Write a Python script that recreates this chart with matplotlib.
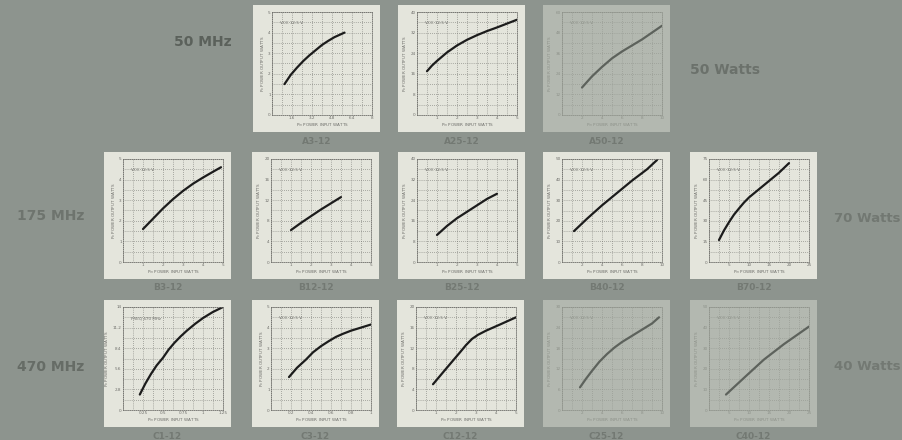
#!/usr/bin/env python3
"""
Power output vs power input curves, 12 V RF transistor line (scanned catalogue page).
"""

import matplotlib
matplotlib.use("Agg")
import matplotlib.pyplot as plt
from matplotlib.patches import Rectangle

# Panel data: Pin (watts) vs Po (watts)
a3_pin = [1.0, 1.5, 2.0, 2.5, 3.0, 3.5, 4.0, 4.5, 5.0, 5.8]
a3_pout = [1.5, 1.95, 2.3, 2.62, 2.9, 3.15, 3.4, 3.6, 3.78, 4.0]
a25_pin = [0.5, 0.75, 1.0, 1.5, 2.0, 2.5, 3.0, 3.5, 4.0, 4.5, 5.0]
a25_pout = [17, 19.2, 21, 24.3, 27, 29.2, 31, 32.6, 34, 35.5, 37]
a50_pin = [2, 3, 4, 5, 6, 7, 8, 9, 10]
a50_pout = [16, 22.5, 28, 33, 37, 40.5, 44, 48, 52]

b3_pin = [1.0, 1.5, 2.0, 2.5, 3.0, 3.5, 4.0, 4.5, 4.9]
b3_pout = [1.6, 2.1, 2.6, 3.05, 3.45, 3.8, 4.1, 4.38, 4.6]
b12_pin = [1.0, 1.5, 2.0, 2.5, 3.0, 3.5]
b12_pout = [6.2, 7.6, 8.9, 10.2, 11.4, 12.6]
b25_pin = [1.0, 1.5, 2.0, 2.5, 3.0, 3.5, 4.0]
b25_pout = [10.5, 14, 17, 19.5, 22, 24.5, 26.5]
b40_pin = [1.2, 2.5, 4.0, 5.5, 7.0, 8.5, 9.5]
b40_pout = [15, 21, 27.5, 33.5, 39.5, 45, 49.5]
b70_pin = [2.5, 3.75, 5, 6.25, 7.5, 8.75, 10, 12.5, 15, 17.5, 20]
b70_pout = [16, 23, 29, 34.5, 39, 43.3, 47, 53, 59, 65, 72]

c1_pin = [0.21, 0.28, 0.35, 0.42, 0.5, 0.57, 0.64, 0.72, 0.8, 0.9, 1.0, 1.12, 1.25]
c1_pout = [2.1, 3.6, 4.9, 6.05, 7.1, 8.2, 9.1, 10.0, 10.8, 11.7, 12.5, 13.3, 14]
c3_pin = [0.18, 0.26, 0.35, 0.42, 0.5, 0.58, 0.65, 0.72, 0.8, 0.9, 1.0]
c3_pout = [1.6, 2.05, 2.45, 2.8, 3.1, 3.35, 3.55, 3.7, 3.85, 4.0, 4.15]
c12_pin = [0.85, 1.5, 2.2, 2.5, 2.8, 3.1, 3.5, 4.2, 5.0]
c12_pout = [5, 8, 11.2, 12.6, 13.8, 14.6, 15.4, 16.6, 18]
c25_pin = [1.8, 2.4, 3, 3.75, 4.5, 5.25, 6, 7.5, 9, 9.7]
c25_pout = [6.6, 9.1, 11.4, 14.1, 16.3, 18.2, 19.8, 22.5, 25.2, 27]
c40_pin = [4.25, 9.25, 13.75, 18.75, 25]
c40_pout = [7.5, 16.5, 24.5, 32, 40.5]

row_labels = ["50 MHz", "175 MHz", "470 MHz"]
power_labels = ["50 Watts", "70 Watts", "40 Watts"]

BG = "#8d948e"
CARD = "#e4e5dc"
CARD_FADED = "#b3b8b0"

W, H = 902, 440
fig = plt.figure(figsize=(W / 100, H / 100), dpi=100)
fig.patch.set_facecolor(BG)


def px_rect(x, y, w, h):
    """Pixel box (top-left origin) -> figure fraction [l, b, w, h]."""
    return [x / W, 1 - (y + h) / H, w / W, h / H]


def draw_panel(x, y, pin, pout, xmax, ymax, name, note, faded=False):
    w, h = 127, 127
    card = CARD_FADED if faded else CARD
    ink = "#5d625c" if faded else "#1c1c1c"
    grid = "#8e928a" if faded else "#6e6e6a"
    fig.patches.append(Rectangle(px_rect(x, y, w, h)[:2], w / W, h / H,
                                 transform=fig.transFigure,
                                 facecolor=card, edgecolor="none", zorder=-5))
    ax = fig.add_axes(px_rect(x + 19, y + 7, w - 27, h - 24))
    ax.set_zorder(2)
    ax.set_facecolor(card)
    ax.plot(pin, pout, color=ink, lw=1.6, solid_capstyle="round",
            solid_joinstyle="round")
    ax.set_xlim(0, xmax)
    ax.set_ylim(0, ymax)
    ax.set_xticks([xmax * i / 5 for i in range(6)])
    ax.set_yticks([ymax * i / 5 for i in range(6)])
    ax.set_xticks([xmax * i / 10 for i in range(11)], minor=True)
    ax.set_yticks([ymax * i / 10 for i in range(11)], minor=True)
    ax.grid(True, which="both", color=grid, lw=0.5, ls=(0, (1, 2)))
    ax.tick_params(which="both", length=0, labelsize=3, colors=grid, pad=1)
    ax.xaxis.set_major_formatter(lambda v, p: f"{v:g}" if v else "")
    ax.yaxis.set_major_formatter(lambda v, p: f"{v:g}")
    for s in ax.spines.values():
        s.set_color(grid)
        s.set_linewidth(0.6)
        s.set_linestyle((0, (1, 1.5)))
    ax.set_xlabel("P$_{in}$ POWER INPUT WATTS", fontsize=3, color=grid, labelpad=1)
    ax.set_ylabel("P$_o$ POWER OUTPUT WATTS", fontsize=3, color=grid, labelpad=1)
    ax.text(0.08, 0.88, note, transform=ax.transAxes, fontsize=3, color=grid)
    fig.text((x + w / 2) / W, 1 - (y + h + 9) / H, name, ha="center", va="center",
             fontsize=6.5, color="#737973", fontweight="bold")


# row 1 - 50 MHz
draw_panel(253, 5, a3_pin, a3_pout, 8, 5, "A3-12", "VCC 12.5 V")
draw_panel(398, 5, a25_pin, a25_pout, 5, 40, "A25-12", "VCC 12.5 V")
draw_panel(543, 5, a50_pin, a50_pout, 10, 60, "A50-12", "VCC 12.5 V", faded=True)

# row 2 - 175 MHz
draw_panel(104, 152, b3_pin, b3_pout, 5, 5, "B3-12", "VCC 12.5 V")
draw_panel(252, 152, b12_pin, b12_pout, 5, 20, "B12-12", "VCC 12.5 V")
draw_panel(398, 152, b25_pin, b25_pout, 5, 40, "B25-12", "VCC 12.5 V")
draw_panel(543, 152, b40_pin, b40_pout, 10, 50, "B40-12", "VCC 12.5 V")
draw_panel(690, 152, b70_pin, b70_pout, 25, 75, "B70-12", "VCC 12.5 V")

# row 3 - 470 MHz
draw_panel(104, 300, c1_pin, c1_pout, 1.25, 14, "C1-12", "FREQ 470 MHz")
draw_panel(252, 300, c3_pin, c3_pout, 1, 5, "C3-12", "VCC 12.5 V")
draw_panel(397, 300, c12_pin, c12_pout, 5, 20, "C12-12", "VCC 12.5 V")
draw_panel(543, 300, c25_pin, c25_pout, 10, 30, "C25-12", "VCC 12.5 V", faded=True)
draw_panel(690, 300, c40_pin, c40_pout, 25, 50, "C40-12", "VCC 12.5 V", faded=True)

# side labels
lab = dict(fontsize=10, fontweight="bold", va="center")
fig.text(232 / W, 1 - 42 / H, row_labels[0], ha="right", color="#5b615b", **lab)
fig.text(17 / W, 1 - 216 / H, row_labels[1], ha="left", color="#6e746e", **lab)
fig.text(17 / W, 1 - 367 / H, row_labels[2], ha="left", color="#666c66", **lab)
fig.text(690 / W, 1 - 70 / H, power_labels[0], ha="left", color="#6b716b", **lab)
lab["fontsize"] = 9.5
fig.text(834 / W, 1 - 218 / H, power_labels[1], ha="left", color="#727872", **lab)
fig.text(834 / W, 1 - 366 / H, power_labels[2], ha="left", color="#737973", **lab)

fig.savefig("out.png", dpi=100, facecolor=BG)
